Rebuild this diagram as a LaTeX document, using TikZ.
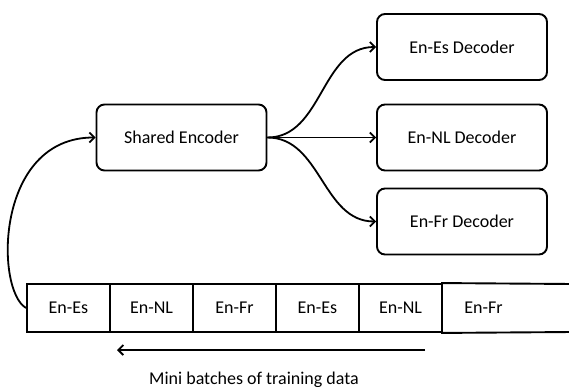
\documentclass[tikz,border=0pt]{standalone}
\usepackage{fontspec}
\setmainfont{Carlito}
\usetikzlibrary{arrows.meta}
\begin{document}
\begin{tikzpicture}[x=1pt,y=-1pt,
  box/.style={draw,line width=1.9pt,rounded corners=8pt,minimum width=170pt,minimum height=66pt,inner sep=0pt,font=\fontsize{18}{20}\selectfont},
  cell/.style={draw,line width=1.9pt,minimum width=83pt,minimum height=48pt,inner sep=0pt,font=\fontsize{18}{20}\selectfont},
  conn/.style={line width=1.8pt,-{Straight Barb[length=5pt,width=10pt,line width=1.8pt]}}]
\useasboundingbox (0,0) rectangle (569,387);
\node[box] (enc) at (181.5,137.5) {Shared Encoder};
\node[box] (des) at (462,47) {En-Es Decoder};
\node[box] (dnl) at (462,137.5) {En-NL Decoder};
\node[box] (dfr) at (462,221.5) {En-Fr Decoder};
\node[cell] (c1) at (68.5,308) {En-Es};
\node[cell] (c2) at (151.5,308) {En-NL};
\node[cell] (c3) at (234.5,308) {En-Fr};
\node[cell] (c4) at (317.5,308) {En-Es};
\node[cell] (c5) at (400.5,308) {En-NL};
\node[cell,draw=none] (c6) at (483.5,308) {En-Fr};
\draw[line width=1.9pt] (c5.north east) -- (c6.north west) -- (572,284);
\draw[line width=1.9pt] (c5.south east) -- (c6.south west) -- (572,332);
\coordinate (ar) at (425,350);
\coordinate (al) at (117,350);
\draw[conn] (ar) -- (al);
\node[anchor=base,font=\fontsize{18}{20}\selectfont] (lbl) at (254,384) {Mini batches of training data};
\draw[conn] (c1.west) .. controls (-5,290) and (-5,137.5) .. (enc.west);
\draw[conn] (enc.east) to[out=0,in=180] (des.west);
\draw[conn] (enc.east) -- (dnl.west);
\draw[conn] (enc.east) to[out=0,in=180] (dfr.west);
\end{tikzpicture}
\end{document}
